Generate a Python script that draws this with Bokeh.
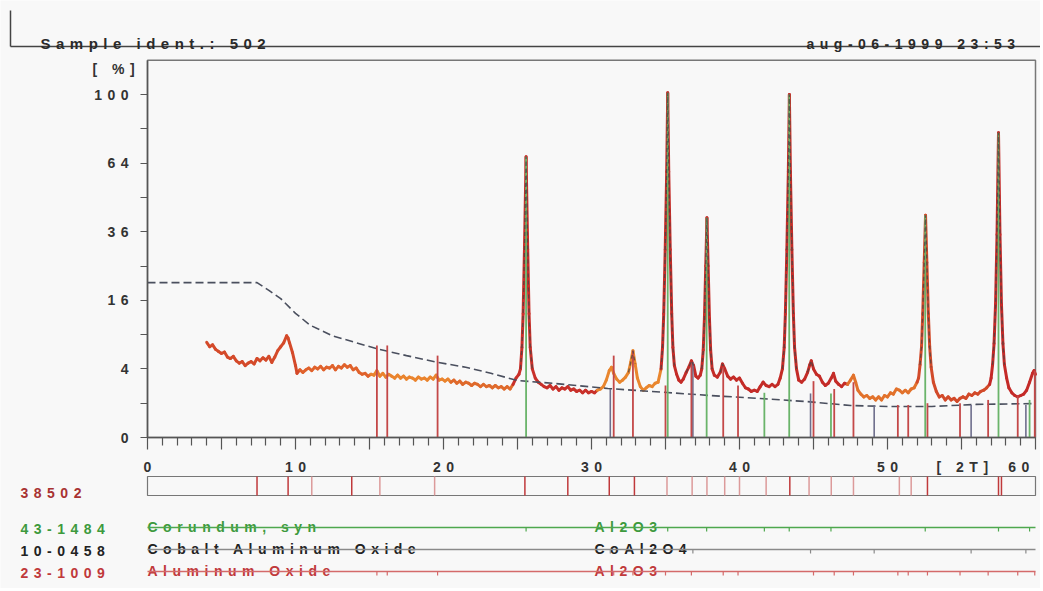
import numpy as np
from bokeh.plotting import figure
from bokeh.models import Range1d, LinearAxis, FixedTicker, ColumnDataSource, InlineStyleSheet
from bokeh.core.properties import value
from bokeh.embed import file_html
from bokeh.resources import INLINE

# ---------------- data ----------------
two_theta = [4.0, 4.2, 4.4, 4.6, 4.8, 5.0, 5.2, 5.4, 5.6, 5.8, 6.0, 6.2, 6.4, 6.6, 6.8, 7.0, 7.2, 7.4, 7.6, 7.8,
             8.0, 8.2, 8.4, 8.6, 8.8, 9.0, 9.2, 9.4, 9.5, 9.6, 9.8, 10.0, 10.1, 10.3, 10.5, 10.7, 10.9, 11.1, 11.3, 11.5,
             11.7, 11.9, 12.1, 12.3, 12.5, 12.7, 12.9, 13.1, 13.3, 13.5, 13.7, 13.9, 14.1, 14.3, 14.5, 14.7, 14.9, 15.1, 15.3, 15.5,
             15.7, 15.9, 16.1, 16.3, 16.5, 16.7, 16.9, 17.1, 17.3, 17.5, 17.7, 17.9, 18.1, 18.3, 18.5, 18.7, 18.9, 19.1, 19.3, 19.5,
             19.7, 19.9, 20.1, 20.3, 20.5, 20.7, 20.9, 21.1, 21.3, 21.5, 21.7, 21.9, 22.1, 22.3, 22.5, 22.7, 22.9, 23.1, 23.3, 23.5,
             23.7, 23.9, 24.1, 24.3, 24.5, 24.7, 24.9, 25.1, 25.2, 25.3, 25.38, 25.47, 25.58, 25.69, 25.78, 25.86, 26.0, 26.2, 26.4, 26.6,
             26.8, 27.0, 27.2, 27.4, 27.6, 27.8, 28.0, 28.2, 28.4, 28.6, 28.8, 29.0, 29.2, 29.4, 29.6, 29.8, 30.0, 30.2, 30.4, 30.6,
             30.8, 31.0, 31.2, 31.35, 31.5, 31.7, 31.9, 32.1, 32.3, 32.5, 32.65, 32.8, 32.95, 33.1, 33.3, 33.5, 33.7, 33.9, 34.1, 34.3,
             34.5, 34.7, 34.8, 34.88, 34.98, 35.08, 35.15, 35.22, 35.32, 35.42, 35.5, 35.6, 35.75, 35.9, 36.05, 36.2, 36.4, 36.6, 36.75, 36.9,
             37.05, 37.2, 37.35, 37.45, 37.55, 37.63, 37.72, 37.8, 37.88, 37.97, 38.05, 38.15, 38.3, 38.5, 38.7, 38.85, 39.0, 39.2, 39.4, 39.6,
             39.8, 40.0, 40.2, 40.4, 40.6, 40.8, 41.0, 41.2, 41.4, 41.6, 41.8, 42.0, 42.2, 42.4, 42.6, 42.75, 42.9, 43.02, 43.1, 43.2,
             43.3, 43.37, 43.44, 43.54, 43.64, 43.72, 43.85, 44.0, 44.2, 44.4, 44.6, 44.75, 44.85, 45.0, 45.2, 45.4, 45.6, 45.8, 46.0, 46.2,
             46.35, 46.5, 46.7, 46.9, 47.1, 47.3, 47.5, 47.7, 47.85, 48.0, 48.2, 48.4, 48.6, 48.8, 49.0, 49.2, 49.4, 49.6, 49.8, 50.0,
             50.2, 50.4, 50.6, 50.8, 51.0, 51.2, 51.4, 51.6, 51.8, 52.0, 52.1, 52.2, 52.3, 52.38, 52.48, 52.57, 52.66, 52.76, 52.85, 52.95,
             53.1, 53.3, 53.5, 53.7, 53.9, 54.1, 54.3, 54.5, 54.7, 54.9, 55.1, 55.3, 55.5, 55.7, 55.9, 56.1, 56.3, 56.5, 56.7, 56.9,
             57.0, 57.1, 57.2, 57.3, 57.4, 57.5, 57.6, 57.7, 57.8, 57.9, 58.05, 58.2, 58.4, 58.6, 58.8, 59.0, 59.2, 59.4, 59.6, 59.8,
             59.9, 60.0]
intensity = [7.7, 7.0, 7.3, 6.6, 6.3, 6.0, 6.2, 5.5, 5.3, 5.6, 5.0, 4.7, 4.9, 4.4, 4.7, 4.9, 4.6, 5.3, 5.0, 5.4,
             5.1, 5.6, 4.8, 5.5, 6.4, 7.0, 7.6, 8.8, 8.4, 7.6, 6.1, 4.4, 3.5, 3.9, 3.6, 3.9, 4.1, 3.8, 4.2, 4.0,
             4.3, 3.9, 4.2, 4.1, 4.4, 3.9, 4.3, 4.1, 4.5, 4.2, 4.4, 3.9, 4.1, 3.6, 3.4, 3.5, 3.2, 3.4, 3.3, 3.8,
             3.2, 3.5, 3.1, 3.4, 3.2, 3.0, 3.3, 3.0, 3.2, 2.9, 3.1, 3.0, 2.8, 3.1, 2.9, 3.0, 2.8, 3.1, 2.9, 3.3,
             2.8, 2.9, 2.7, 2.9, 2.6, 2.8, 2.5, 2.7, 2.4, 2.6, 2.5, 2.3, 2.5, 2.4, 2.2, 2.4, 2.2, 2.3, 2.1, 2.3,
             2.1, 2.2, 2.0, 2.2, 2.0, 2.4, 3.0, 3.4, 4.0, 6.9, 13.0, 30.0, 67.0, 30.0, 13.0, 6.9, 4.0, 3.0, 2.6, 2.4,
             2.2, 2.1, 2.3, 2.0, 2.2, 1.9, 2.1, 2.0, 2.2, 1.9, 2.0, 1.8, 1.9, 1.7, 1.9, 1.7, 1.8, 1.7, 1.9, 2.0,
             2.2, 2.8, 3.8, 4.2, 3.5, 2.9, 2.6, 2.8, 3.1, 3.6, 4.8, 6.4, 4.6, 3.0, 2.2, 1.9, 2.1, 2.3, 2.2, 2.5,
             2.6, 4.0, 6.9, 13.0, 30.0, 60.0, 101.0, 60.0, 30.0, 13.0, 6.9, 4.4, 3.4, 2.8, 2.6, 2.9, 3.6, 4.3, 5.0, 4.4,
             3.2, 3.0, 3.3, 4.0, 6.5, 12.0, 25.0, 41.0, 25.0, 12.0, 6.5, 4.0, 3.3, 3.1, 3.6, 4.6, 4.0, 3.2, 2.9, 3.1,
             2.8, 3.0, 2.5, 2.1, 2.0, 1.8, 1.9, 1.8, 2.2, 2.6, 2.3, 2.2, 2.4, 2.2, 2.4, 3.0, 4.0, 6.9, 13.0, 30.0,
             60.0, 100.0, 60.0, 30.0, 13.0, 6.9, 4.0, 2.8, 2.6, 2.9, 3.6, 4.5, 5.0, 4.0, 3.4, 3.2, 2.6, 2.3, 2.5, 3.0,
             3.5, 2.7, 2.4, 2.2, 2.5, 2.4, 2.8, 3.3, 2.6, 1.9, 1.6, 1.4, 1.5, 1.3, 1.4, 1.2, 1.4, 1.2, 1.5, 1.4,
             1.7, 1.6, 2.0, 1.9, 1.7, 1.9, 1.7, 2.0, 2.1, 2.6, 3.0, 4.5, 7.0, 13.0, 26.0, 42.0, 26.0, 13.0, 7.0, 4.2,
             2.6, 1.8, 1.4, 1.5, 1.2, 1.4, 1.2, 1.3, 1.1, 1.3, 1.4, 1.3, 1.6, 1.5, 1.7, 1.6, 1.8, 1.9, 2.1, 2.4,
             3.0, 4.5, 7.5, 15.0, 35.0, 79.0, 35.0, 15.0, 7.5, 4.5, 3.0, 2.1, 1.7, 1.5, 1.4, 1.5, 1.6, 1.9, 2.6, 3.5,
             3.8, 3.4]

bg_theta = [0.0, 7.4, 8.2, 9.0, 10.0, 11.0, 12.5, 14.0, 15.5, 17.5, 19.6, 21.5, 23.2, 25.0, 27.5, 31.1, 35.1,
            38.0, 41.4, 44.5, 47.5, 50.0, 53.0, 56.0, 60.0]
bg_intensity = [20.4, 20.4, 18.4, 16.4, 13.1, 10.7, 8.8, 7.7, 6.7, 5.7, 4.8, 4.2, 3.5, 2.76, 2.48, 2.04, 1.72,
                1.5, 1.29, 1.1, 0.87, 0.82, 0.82, 0.93, 0.98]

# 43-1484 Corundum, syn (Al2O3)
cor_pos = [25.58, 35.15, 37.78, 41.68, 43.36, 46.18, 52.55, 57.50, 59.6]
cor_int = [67, 101, 41, 1.7, 100, 1.65, 42, 79, 1.2]
# 10-0458 Cobalt Aluminum Oxide (CoAl2O4)
coal_pos = [31.27, 36.85, 44.8, 49.1, 55.65, 59.35]
coal_int = [2.0, 4.8, 1.65, 0.9, 0.9, 0.9]
# 23-1009 Aluminum Oxide (Al2O3)
alox_pos = [15.5, 16.2, 19.6, 31.5, 32.8, 35.0, 36.75, 38.9, 39.9, 45.0, 46.4, 47.7, 50.7, 51.4, 52.7,
            54.9, 56.8, 58.8, 59.95]
alox_int = [7.2, 7.2, 5.7, 5.7, 6.4, 2.3, 4.8, 4.2, 2.3, 2.7, 2.0, 2.6, 0.9, 0.9, 1.0,
            1.0, 1.2, 1.5, 3.8]
# 38502 peak list
peak_pos = [7.4, 9.5, 11.1, 13.8, 15.7, 19.4, 25.5, 28.4, 31.2, 32.9, 35.1, 36.8, 37.8, 39.0, 40.0,
            41.8, 43.4, 44.7, 46.2, 47.7, 50.8, 51.6, 52.7, 57.5, 57.7]
peak_strong = [1, 1, 0, 1, 0, 0, 1, 1, 1, 1, 0, 0, 0, 0, 0,
               0, 1, 0, 0, 0, 0, 0, 1, 1, 1]

x_major = [0, 10, 20, 30, 40, 50, 60]
y_tick_values = [0, 4, 16, 36, 64, 100]
y_minor_values = [1, 9, 25, 49, 81]

# ---------------- layout / style ----------------
BG = "#f8f8f8"
FONT = value("Liberation Sans")
LS = 5.5          # letter spacing (px)
FS = "14px"
FSPX = 14
W, H = 1040, 588
PX_L, PX_R = 147, 1035     # page x of 0 and 60 deg
PY_0, PY_100 = 437, 94     # page y of 0 % and 100 %
kx = (PX_R - PX_L) / 60.0
ky = (PY_0 - PY_100) / 10.0
x0 = -PX_L / kx
x1 = x0 + W / kx
y1 = PY_0 / ky
y0 = y1 - H / ky
YTOP = np.sqrt(121.0)

p = figure(width=W, height=H, x_range=Range1d(x0, x1), y_range=Range1d(y0, y1),
           x_axis_type=None, y_axis_type=None, toolbar_location=None, output_backend="svg",
           min_border=0, background_fill_color=BG, border_fill_color=BG, outline_line_color=None)
p.min_border_left = p.min_border_right = p.min_border_top = p.min_border_bottom = 0
p.extra_x_ranges = {"px": Range1d(0, W)}
p.extra_y_ranges = {"py": Range1d(H, 0)}
p.stylesheets = [InlineStyleSheet(css=":host { letter-spacing: %.1fpx; }" % LS)]


def txt(x, y, s, color, size=FS, align="left", baseline="alphabetic", xr="px", yr="py"):
    p.text(x=[x], y=[y], text=[s], text_font=FONT, text_font_style="bold", text_font_size=size,
           text_color=color, text_align=align, text_baseline=baseline,
           x_range_name=xr, y_range_name=yr)


# header
p.segment(x0=[10, 10], y0=[10, 46], x1=[10, W], y1=[46, 46], line_color="#444", line_width=1.5,
          x_range_name="px", y_range_name="py")
txt(40, 43, "Sample ident.: 502", "#2a2a2a", size="15px")
txt(806, 43, "aug-06-1999 23:53", "#2a2a2a")

# plot frame
p.quad(left=[0], right=[60], bottom=[0], top=[YTOP], fill_color=None, line_color="#777", line_width=1.5)

# measured pattern, drawn in segments coloured by range
tt = np.array(two_theta)
ii = np.array(intensity)
ss = np.sqrt(ii)
seg_colors = [(10.2, "#d44a2a"), (15.0, "#e0622c"), (20.5, "#ea842e"), (24.6, "#df6a2c"), (30.4, "#c9302a"),
              (34.7, "#e9862e"), (47.2, "#c42c28"), (52.0, "#e2722c"), (56.9, "#d24a2a"), (61.0, "#c42a28")]
mid = (tt[:-1] + tt[1:]) / 2
cols = []
for m in mid:
    for lim, c in seg_colors:
        if m <= lim:
            cols.append(c)
            break
p.segment(x0=tt[:-1], y0=ss[:-1], x1=tt[1:], y1=ss[1:], line_color=cols, line_width=3.0, line_cap="round")

# background line
p.line(x=bg_theta, y=np.sqrt(bg_intensity), line_color="#4a4f5e", line_width=1.6, line_dash="8 4")

# reference sticks
p.segment(x0=coal_pos, y0=[0] * len(coal_pos), x1=coal_pos, y1=np.sqrt(coal_int), line_color="#6e6e8c", line_width=1.6)
p.segment(x0=alox_pos, y0=[0] * len(alox_pos), x1=alox_pos, y1=np.sqrt(alox_int), line_color="#c44848", line_width=1.8)
p.segment(x0=cor_pos, y0=[0] * len(cor_pos), x1=cor_pos, y1=np.sqrt(cor_int), line_color="#6ab46a", line_width=1.8)

# fitted profile overlay on the peaks
mask = (ii >= 3.6) & (tt >= 24.5)
xs, ys, cx, cy = [], [], [], []
for t, s, m in zip(tt, ss, mask):
    if m:
        cx.append(t); cy.append(s)
    else:
        if len(cx) > 2:
            xs.append(cx); ys.append(cy)
        cx, cy = [], []
if len(cx) > 2:
    xs.append(cx); ys.append(cy)
p.multi_line(xs=xs, ys=ys, line_color="#444444", line_alpha=0.75, line_width=1.3, line_dash="4 3")

# axes
xaxis = LinearAxis(fixed_location=0, bounds=(0, 60),
                   ticker=FixedTicker(ticks=list(range(0, 61, 5)), minor_ticks=[i for i in range(61) if i % 5]),
                   major_label_text_color=None, axis_line_color="#555", axis_line_width=1.5,
                   major_tick_out=12, major_tick_in=0, minor_tick_out=8, minor_tick_in=0,
                   major_tick_line_color="#555", minor_tick_line_color="#555",
                   major_tick_line_width=1.2, minor_tick_line_width=1.2)
p.add_layout(xaxis, "below")
yt = [float(np.sqrt(v)) for v in y_tick_values]
ym = [float(np.sqrt(v)) for v in y_minor_values]
yaxis = LinearAxis(fixed_location=0, bounds=(0, float(YTOP)),
                   ticker=FixedTicker(ticks=yt, minor_ticks=ym),
                   major_label_text_color=None, axis_line_color="#555", axis_line_width=1.5,
                   major_tick_out=7, major_tick_in=0, minor_tick_out=7, minor_tick_in=0,
                   major_tick_line_color="#555", minor_tick_line_color="#555",
                   major_tick_line_width=1.2, minor_tick_line_width=1.2)
p.add_layout(yaxis, "left")

# tick labels (letter-spaced text, offsets keep alignment)
ylab = [str(v) for v in y_tick_values]
p.text(x="x", y="y", text="text", x_offset="xo",
       source=ColumnDataSource(dict(x=[128] * len(ylab), y=yt, text=ylab, xo=[-(len(s) - 1) * LS for s in ylab])),
       text_font=FONT, text_font_style="bold", text_font_size=FS, text_color="#333",
       text_align="right", text_baseline="middle", x_range_name="px")
xlab = [str(v) for v in x_major]
xo = []
for v, s in zip(x_major, xlab):
    n = len(s)
    m = n * 0.556 * FSPX
    off = -(n - 1) * LS / 2
    right = PX_L + v * kx + m / 2 + n * LS
    off += min(0.0, (W - 3) - right)
    xo.append(off)
p.text(x="x", y="y", text="text", x_offset="xo",
       source=ColumnDataSource(dict(x=x_major, y=[466] * len(xlab), text=xlab, xo=xo)),
       text_font=FONT, text_font_style="bold", text_font_size=FS, text_color="#333",
       text_align="center", text_baseline="alphabetic", y_range_name="py")
txt(92, 68, "[ %]", "#333")
txt(936, 466, "[ 2T]", "#333")

# 38502 peak list box
txt(20, 492, "38502", "#a83232")
p.quad(left=[0], right=[60], bottom=[495], top=[476], fill_color=None, line_color="#777", line_width=1.2,
       y_range_name="py")
pk_col = ["#c0393b" if s else "#dc9a9a" for s in peak_strong]
p.segment(x0=peak_pos, y0=[476] * len(peak_pos), x1=peak_pos, y1=[495] * len(peak_pos),
          line_color=pk_col, line_width=1.5, y_range_name="py")

# phase rows
rows = [("43-1484", "Corundum, syn", "Al2O3", "#3d9a3d", "#4ea84e", 527, cor_pos),
        ("10-0458", "Cobalt Aluminum Oxide", "CoAl2O4", "#222222", "#8a8a8a", 549, coal_pos),
        ("23-1009", "Aluminum Oxide", "Al2O3", "#c0393b", "#d46a6a", 571, alox_pos)]
for code, name, formula, tcol, lcol, ly, pos in rows:
    txt(20, ly + 1, code, tcol)
    txt(147, ly - 1, name, tcol)
    txt(594, ly - 1, formula, tcol)
    p.segment(x0=[0], y0=[ly], x1=[60], y1=[ly], line_color=lcol, line_width=1.5, y_range_name="py")
    p.segment(x0=pos, y0=[ly] * len(pos), x1=pos, y1=[ly + 4] * len(pos), line_color=lcol, line_width=1.2,
              y_range_name="py")

open("out.html", "w").write(file_html(p, INLINE))
